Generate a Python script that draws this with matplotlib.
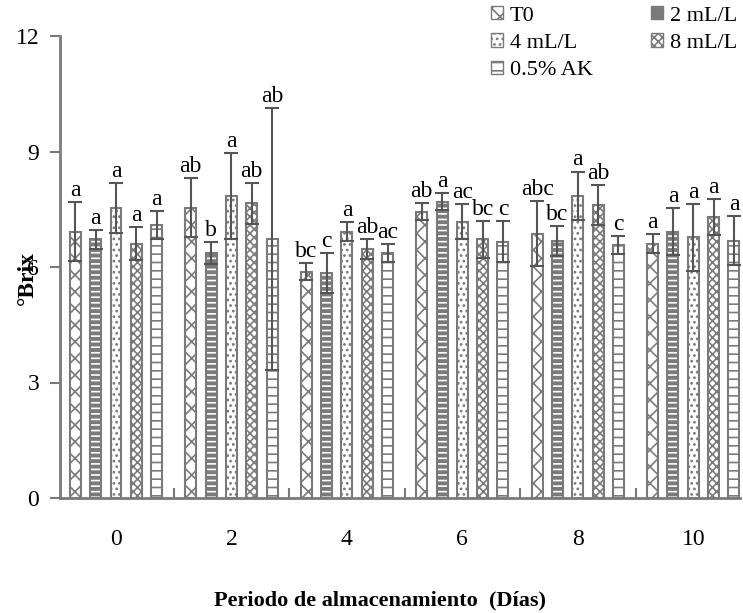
import matplotlib
matplotlib.use("Agg")
import matplotlib.pyplot as plt
import numpy as np

plt.rcParams['font.family'] = ['Liberation Serif', 'DejaVu Serif']
plt.rcParams['hatch.linewidth'] = 1.2

days = [0, 2, 4, 6, 8, 10]
treatments = ["T0", "2 mL/L", "4 mL/L", "8 mL/L", "0.5% AK"]

means = {
    "T0":      [6.92, 7.54, 5.88, 7.44, 6.87, 6.61],
    "2 mL/L":  [6.72, 6.36, 5.84, 7.70, 6.68, 6.92],
    "4 mL/L":  [7.54, 7.85, 6.92, 7.18, 7.85, 6.77],
    "8 mL/L":  [6.61, 7.65, 6.46, 6.72, 7.61, 7.29],
    "0.5% AK": [7.09, 6.72, 6.36, 6.66, 6.57, 6.68],
}
errors = {
    "T0":      [0.77, 0.76, 0.23, 0.21, 0.84, 0.25],
    "2 mL/L":  [0.24, 0.28, 0.52, 0.21, 0.39, 0.60],
    "4 mL/L":  [0.65, 1.12, 0.25, 0.45, 0.63, 0.87],
    "8 mL/L":  [0.42, 0.54, 0.26, 0.48, 0.51, 0.47],
    "0.5% AK": [0.37, 3.40, 0.24, 0.54, 0.24, 0.64],
}
letters = {
    "T0":      ["a", "ab", "bc", "ab", "abc", "a"],
    "2 mL/L":  ["a", "b", "c", "a", "bc", "a"],
    "4 mL/L":  ["a", "a", "a", "ac", "a", "a"],
    "8 mL/L":  ["a", "ab", "ab", "bc", "ab", "a"],
    "0.5% AK": ["a", "ab", "ac", "c", "c", "a"],
}

gray = "#7a7a7a"
styles = {
    "T0":      dict(hatch="xx", face="white", hc=gray),
    "2 mL/L":  dict(hatch="---", face=gray, hc="white"),
    "4 mL/L":  dict(hatch="...", face="white", hc=gray),
    "8 mL/L":  dict(hatch="xxxx", face="white", hc=gray),
    "0.5% AK": dict(hatch="--", face="white", hc=gray),
}

fig = plt.figure(figsize=(7.43, 6.13), dpi=100)
ax = fig.add_axes([60/743, 115/613, 680/743, 462/613])

spacing = 0.352
width = 0.19
x = np.array(days, dtype=float)
handles = {}
for i, t in enumerate(treatments):
    st = styles[t]
    pos = x + (i - 2) * spacing
    ax.bar(pos, means[t], width=width, color=st["face"], edgecolor=st["hc"],
           hatch=st["hatch"], linewidth=0, zorder=2)
    ax.bar(pos, means[t], width=width, fill=False, edgecolor=gray,
           linewidth=1.5, zorder=3)
    ax.errorbar(pos, means[t], yerr=errors[t], fmt="none", ecolor="#555555",
                elinewidth=1.5, capsize=5, capthick=1.5, zorder=4)
    for px, m, e, lab in zip(pos, means[t], errors[t], letters[t]):
        ax.text(px, m + e + 0.03, lab, ha="center", va="bottom", fontsize=17)
    handles[t] = plt.Rectangle((0, 0), 1, 1, facecolor=st["face"], edgecolor=gray,
                               hatch=st["hatch"], linewidth=1.0)

ax.set_xlim(-0.97, 10.81)
ax.set_ylim(0, 12)
ax.set_yticks([0, 3, 6, 9, 12])
ax.set_xticks(days)
ax.set_xticks([1, 3, 5, 7, 9], minor=True)
ax.tick_params(axis="x", which="major", length=0, pad=22, labelsize=17)
ax.tick_params(axis="x", which="minor", direction="in", length=7, width=1.5, color=gray)
ax.tick_params(axis="y", direction="out", length=7, width=1.5, color=gray, labelsize=17, pad=8)
for s in ["top", "right"]:
    ax.spines[s].set_visible(False)
for s in ["left", "bottom"]:
    ax.spines[s].set_color(gray)
    ax.spines[s].set_linewidth(2)

fig.text(27/743, 1 - 278/613, "°Brix", rotation=90, ha="center", va="center",
         fontsize=17, fontweight="bold")
fig.text(380/743, 1 - 600/613, "Periodo de almacenamiento  (Días)", ha="center",
         va="center", fontsize=16, fontweight="bold")

order = ["T0", "4 mL/L", "0.5% AK", "2 mL/L", "8 mL/L"]
leg = fig.legend([handles[t] for t in order], order, ncol=2, loc="upper left",
                 bbox_to_anchor=(491/743, 1 - 6/613), frameon=False, fontsize=16,
                 handlelength=0.55, handleheight=0.55, handletextpad=0.3,
                 columnspacing=2.6, labelspacing=0.35, borderaxespad=0,
                 borderpad=0)

fig.savefig("out.png", dpi=100)
